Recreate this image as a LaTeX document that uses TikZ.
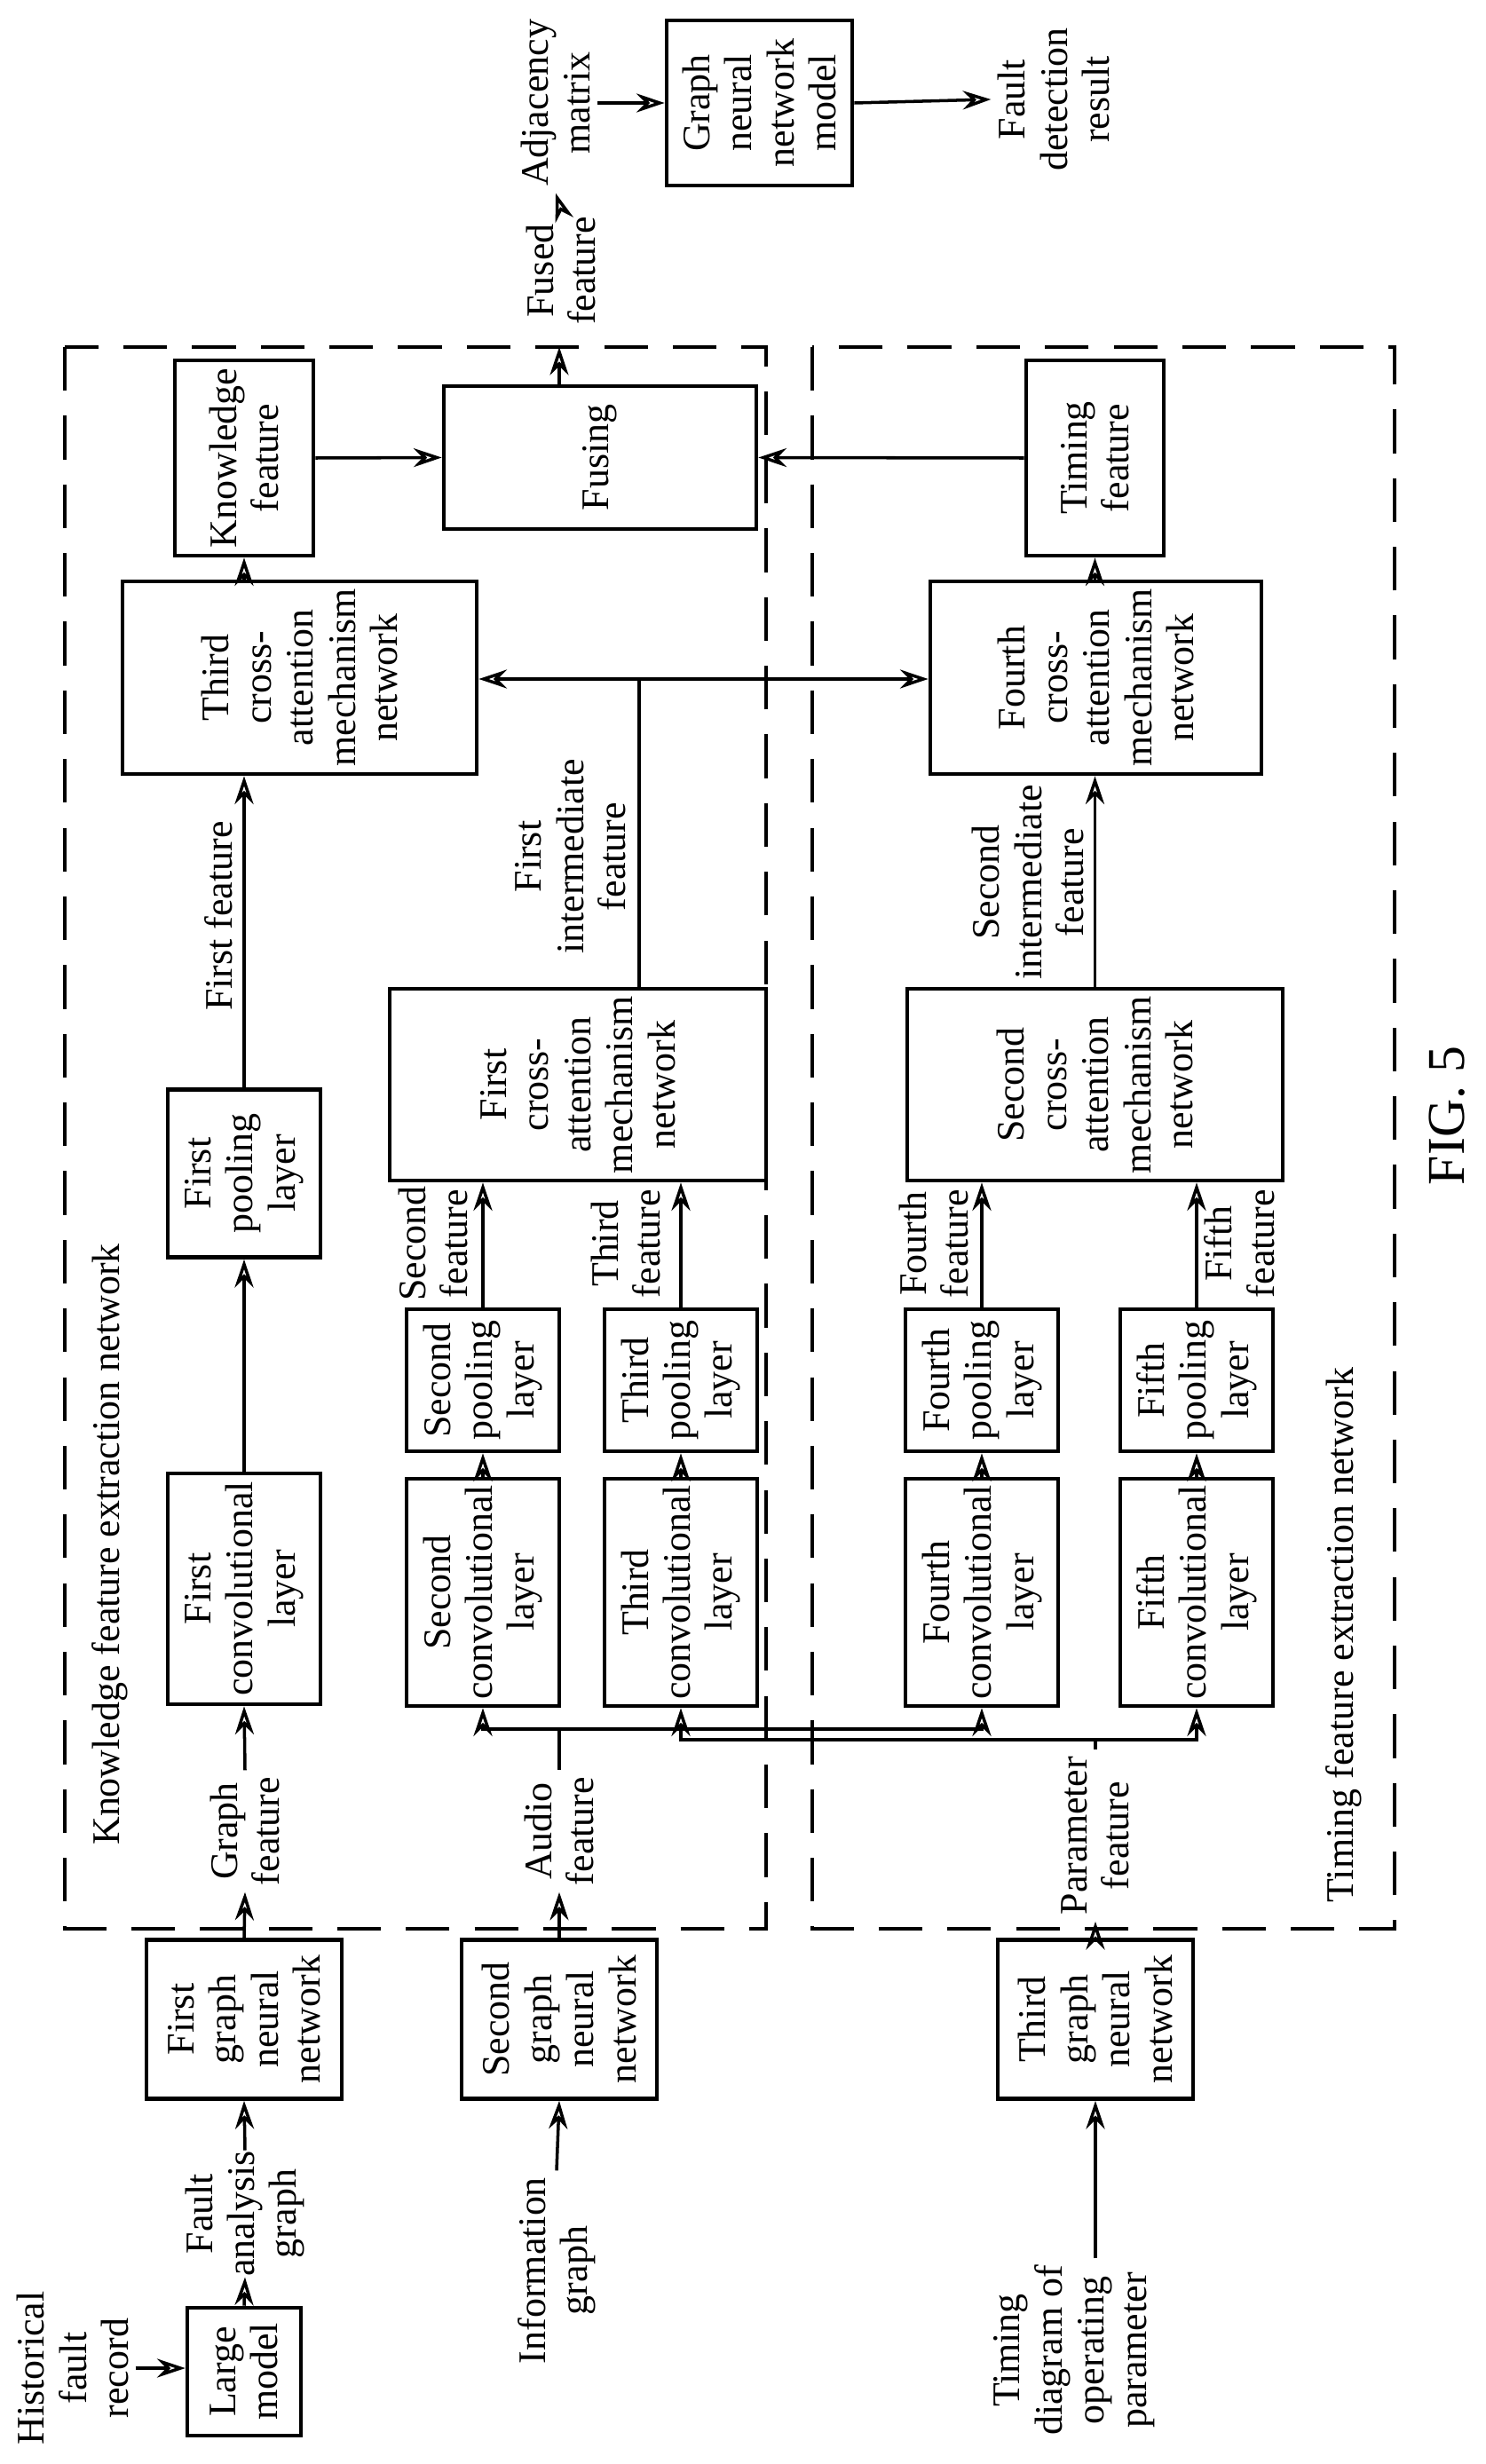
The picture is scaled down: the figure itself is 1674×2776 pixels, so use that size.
\documentclass[tikz,border=0pt]{standalone}
\usepackage{fontspec}
\setmainfont{Liberation Serif}
\usetikzlibrary{arrows.meta}
\begin{document}
\begin{tikzpicture}[x=0.01cm,y=-0.01cm,
  font=\fontsize{12.5}{13.5}\selectfont,
  box/.style={draw,line width=1.3pt,rotate=90,align=center,inner sep=1pt},
  lbl/.style={rotate=90,align=center,inner sep=2pt},
  arr/.style={line width=1pt,-{Stealth[length=9pt,width=6pt,open]}},
  ln/.style={line width=1pt},
  dashbox/.style={line width=1.3pt,dash pattern=on 14pt off 8pt}]
\useasboundingbox (0,0) rectangle (1674,2776);
% dashed regions
\draw[dashbox] (73,391) rectangle (863,2173);
\draw[dashbox] (915,391) rectangle (1571,2173);
% boxes
\node[box,minimum width=1.44cm,minimum height=1.28cm] (lm) at (275,2672) {Large\\model};
\node[box,minimum width=1.79cm,minimum height=2.2cm] (g1) at (275,2275) {First\\graph\\neural\\network};
\node[box,minimum width=1.79cm,minimum height=2.2cm] (g2) at (630,2275) {Second\\graph\\neural\\network};
\node[box,minimum width=1.79cm,minimum height=2.2cm] (g3) at (1234,2275) {Third\\graph\\neural\\network};
\node[box,minimum width=2.6cm,minimum height=1.72cm] (c1) at (275,1790) {First\\convolutional\\layer};
\node[box,minimum width=1.89cm,minimum height=1.72cm] (p1) at (275,1322) {First\\pooling\\layer};
\node[box,minimum width=2.56cm,minimum height=1.72cm] (c2) at (544,1794) {Second\\convolutional\\layer};
\node[box,minimum width=1.6cm,minimum height=1.72cm] (p2) at (544,1555) {Second\\pooling\\layer};
\node[box,minimum width=2.56cm,minimum height=1.72cm] (c3) at (767,1794) {Third\\convolutional\\layer};
\node[box,minimum width=1.6cm,minimum height=1.72cm] (p3) at (767,1555) {Third\\pooling\\layer};
\node[box,minimum width=2.56cm,minimum height=1.72cm] (c4) at (1106,1794) {Fourth\\convolutional\\layer};
\node[box,minimum width=1.6cm,minimum height=1.72cm] (p4) at (1106,1555) {Fourth\\pooling\\layer};
\node[box,minimum width=2.56cm,minimum height=1.72cm] (c5) at (1348,1794) {Fifth\\convolutional\\layer};
\node[box,minimum width=1.6cm,minimum height=1.72cm] (p5) at (1348,1555) {Fifth\\pooling\\layer};
\node[box,minimum width=2.16cm,minimum height=4.24cm] (ca1) at (651,1222) {First\\cross-\\attention\\mechanism\\network};
\node[box,minimum width=2.16cm,minimum height=4.23cm] (ca2) at (1233.5,1222) {Second\\cross-\\attention\\mechanism\\network};
\node[box,minimum width=2.17cm,minimum height=3.99cm] (ca3) at (337.5,763.5) {Third\\cross-\\attention\\mechanism\\network};
\node[box,minimum width=2.17cm,minimum height=3.73cm] (ca4) at (1234.5,763.5) {Fourth\\cross-\\attention\\mechanism\\network};
\node[box,minimum width=2.2cm,minimum height=1.56cm] (kf) at (275,516) {Knowledge\\feature};
\node[box,minimum width=2.2cm,minimum height=1.55cm] (tf) at (1233.5,516) {Timing\\feature};
\node[box,minimum width=1.61cm,minimum height=3.52cm] (fu) at (676,515.5) {Fusing};
\node[box,minimum width=1.86cm,minimum height=2.09cm] (gm) at (855.5,116) {Graph\\neural\\network\\model};
% text labels
\node[lbl] (hist) at (82,2668) {Historical\\fault\\record};
\node[lbl,inner sep=0pt] (fag) at (276,2494) {Fault\\analysis\\graph};
\node[lbl] (info) at (627,2558) {Information\\graph};
\node[lbl] (td) at (1210,2648) {Timing\\diagram of\\operating\\parameter};
\node[lbl] (gf) at (276,2063) {Graph\\feature};
\node[lbl] (af) at (630,2063) {Audio\\feature};
\node[lbl] (pf) at (1234,2068) {Parameter\\feature};
\node[lbl] (ff) at (246,1032) {First feature};
\node[lbl] (sf) at (488,1401) {Second\\feature};
\node[lbl] (thf) at (705,1401) {Third\\feature};
\node[lbl] (fof) at (1052,1401) {Fourth\\feature};
\node[lbl] (fif) at (1396,1401) {Fifth\\feature};
\node[lbl] (fi) at (643,965) {First\\intermediate\\feature};
\node[lbl] (si) at (1158,994) {Second\\intermediate\\feature};
\node[lbl] (fus) at (632,305) {Fused\\feature};
\node[lbl] (adj) at (626,116) {Adjacency\\matrix};
\node[lbl] (fd) at (1187,112) {Fault\\detection\\result};
\node[lbl] (kl) at (124,1740) {Knowledge feature extraction network};
\node[lbl] (tl) at (1514,1842) {Timing feature extraction network};
\node[lbl,font=\fontsize{17}{18}\selectfont] (fig) at (1630,1257) {FIG. 5};
% connectors
\draw[arr] (hist.south) -- (lm.north |- hist.south);
\draw[arr] (lm.east) -- (fag.west);
\draw[arr] (fag.east) -- (g1.west);
\draw[arr] (info.east) -- (g2.west);
\draw[arr] (td.east -| g3) -- (g3.west);
\draw[arr] (g1.east) -- (gf.west);
\draw[arr] (gf.east) -- (c1.west);
\draw[arr] (g2.east) -- (af.west);
\draw[arr] (g3.east) -- (pf.west);
\coordinate (b1) at (625,1948);
\coordinate (b2) at (1247,1960);
\draw[ln] (af.east) -- (af.east |- b1);
\draw[arr] (af.east |- b1) -| (c2.west);
\draw[arr] (af.east |- b1) -| (c4.west);
\draw[ln] (pf.east) -- (pf.east |- b2);
\draw[arr] (pf.east |- b2) -| (c3.west);
\draw[arr] (pf.east |- b2) -| (c5.west);
\draw[arr] (c1.east) -- (p1.west);
\draw[arr] (c2.east) -- (p2.west);
\draw[arr] (c3.east) -- (p3.west);
\draw[arr] (c4.east) -- (p4.west);
\draw[arr] (c5.east) -- (p5.west);
\draw[arr] (p1.east) -- (p1.east |- ca3.west);
\draw[arr] (p2.east) -- (p2.east |- ca1.west);
\draw[arr] (p3.east) -- (p3.east |- ca1.west);
\draw[arr] (p4.east) -- (p4.east |- ca2.west);
\draw[arr] (p5.east) -- (p5.east |- ca2.west);
\coordinate (m1) at (720,765);
\draw[ln] (ca1.east -| m1) -- (m1);
\draw[line width=1pt,{Stealth[length=9pt,width=6pt,open]}-{Stealth[length=9pt,width=6pt,open]}] (ca3.south |- m1) -- (ca4.north |- m1);
\draw[arr] (ca2.east) -- (ca2.east |- ca4.west);
\draw[arr] (ca3.east -| kf) -- (kf.west);
\draw[arr] (ca4.east -| tf) -- (tf.west);
\draw[arr] (kf.south) -- (fu.north);
\draw[arr] (tf.north) -- (fu.south);
\coordinate (dt) at (630,391);
\draw[arr] (fu.east -| dt) -- (dt);
\draw[arr] (fus.east) -- (adj.west);
\draw[arr] (adj.south) -- (gm.north);
\draw[arr] (gm.south) -- (fd.north);
\end{tikzpicture}
\end{document}
